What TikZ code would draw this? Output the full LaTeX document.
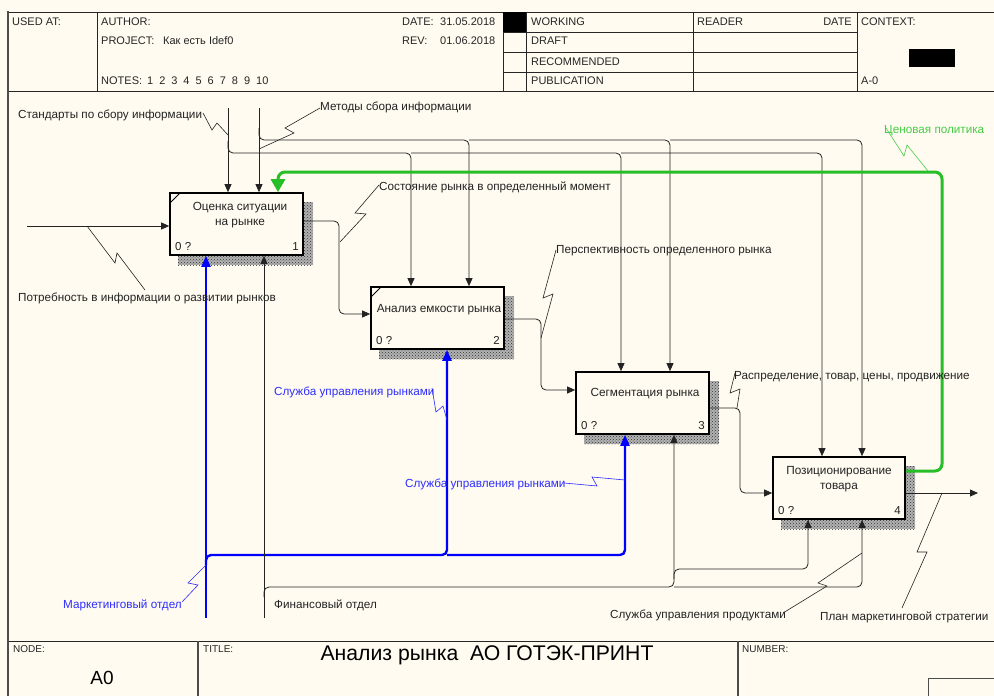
\documentclass[tikz,border=0pt]{standalone}
\usepackage{fontspec}
\setmainfont{Liberation Sans}
\usetikzlibrary{arrows.meta,patterns,calc}
\definecolor{bg}{RGB}{255,251,240}
\definecolor{ln}{RGB}{35,35,35}
\definecolor{bl}{RGB}{0,0,255}
\definecolor{bltxt}{RGB}{45,45,255}
\definecolor{gr}{RGB}{40,190,40}
\definecolor{grtxt}{RGB}{70,205,70}
\begin{document}
\begin{tikzpicture}[x=1pt,y=-1pt,
  lbl/.style={font=\fontsize{11.7}{13}\selectfont, text=ln, inner sep=0, anchor=base west},
  blbl/.style={lbl, text=bltxt},
  glbl/.style={lbl, text=grtxt},
  hdr/.style={font=\fontsize{11}{13}\selectfont, text=black!85, inner sep=0, anchor=base west},
  small/.style={font=\fontsize{10}{12}\selectfont, text=black!85, inner sep=0, anchor=base west},
  fbox/.style={draw=black, line width=1.7pt, fill=bg, minimum width=#1, minimum height=62pt, inner sep=0},
  btxt/.style={font=\fontsize{11.8}{15}\selectfont, text=ln, inner sep=0, align=center},
  bnum/.style={font=\fontsize{11.5}{13}\selectfont, text=ln, inner sep=0},
  cn/.style={draw=ln, line width=0.8pt},
  arr/.style={cn, -{Triangle[length=8pt,width=7pt]}},
  bla/.style={draw=bl, line width=2.4pt, -{Triangle[length=11pt,width=9pt]}},
  grn/.style={draw=gr, line width=3pt, -{Triangle[length=13pt,width=14pt]}},
  sq/.style={draw=ln, line width=0.6pt},
  bsq/.style={draw=bltxt, line width=0.6pt},
  gsq/.style={draw=grtxt, line width=0.6pt},
  frm/.style={draw=black!85, line width=0.9pt},
  shad/.style={fill=gray!60, postaction={pattern=crosshatch dots, pattern color=black!80}}
]
\fill[bg] (0,0) rectangle (994,696);
\useasboundingbox (0,0) rectangle (994,696);

% ---------- frame ----------
\draw[frm] (8,12) -- (994,12);
\draw[frm] (8,91) -- (994,91);
\draw[frm] (8,641) -- (994,641);
\draw[draw=gray!60!black, line width=2pt] (8,11) -- (8,696);
\draw[frm] (97,12) -- (97,91);
\draw[frm] (503,12) -- (503,91);
\draw[frm] (526,12) -- (526,91);
\draw[frm] (693,12) -- (693,91);
\draw[frm] (857,12) -- (857,91);
\draw[frm] (503,32) -- (857,32);
\draw[frm] (503,52) -- (857,52);
\draw[frm] (503,72) -- (857,72);
\fill[black] (503,12) rectangle (526,32);
\fill[black] (909,49) rectangle (955,67);
\draw[draw=gray!60!black, line width=1.2pt] (198,641) -- (198,696);
\draw[draw=gray!60!black, line width=1.2pt] (738,641) -- (738,696);
\draw[draw=gray!60!black, line width=1pt] (928,696) -- (928,678) -- (994,678);

% ---------- header texts ----------
\node[hdr] (h1) at (12,25) {USED AT:};
\node[hdr] (h2) at (101,25) {AUTHOR:};
\node[hdr] (h3) at (101,44) {PROJECT:};
\node[hdr] (h3b) at (163,44) {Как есть Idef0};
\node[hdr] (h4) at (101,84) {NOTES:\hspace{5pt}1\hspace{6pt}2\hspace{6pt}3\hspace{6pt}4\hspace{6pt}5\hspace{6pt}6\hspace{6pt}7\hspace{6pt}8\hspace{6pt}9\hspace{6pt}10};
\node[hdr] (h5) at (402,25) {DATE:};
\node[hdr] (h5b) at (440,25) {31.05.2018};
\node[hdr] (h6) at (402,44) {REV:};
\node[hdr] (h6b) at (440,44) {01.06.2018};
\node[hdr] (h7) at (531,25) {WORKING};
\node[hdr] (h8) at (531,45) {DRAFT};
\node[hdr] (h9) at (531,65) {RECOMMENDED};
\node[hdr] (h10) at (531,84) {PUBLICATION};
\node[hdr] (h11) at (697,25) {READER};
\node[hdr, anchor=base east] (h12) at (852,25) {DATE};
\node[hdr] (h13) at (861,25) {CONTEXT:};
\node[hdr] (h14) at (861,84) {A-0};
\node[small] (f1n) at (13,652) {NODE:};
\node[small] (f2n) at (203,652) {TITLE:};
\node[small] (f3n) at (742,652) {NUMBER:};
\node[font=\fontsize{19}{22}\selectfont, text=black, inner sep=0] (f4n) at (102,678) {A0};
\node[font=\fontsize{21.2}{24}\selectfont, text=black, inner sep=0] (f5n) at (487,655) {Анализ рынка\ \ АО ГОТЭК-ПРИНТ};

% ---------- shadows ----------
\path[shad] (178,202) rectangle (313,265);
\path[shad] (379,296) rectangle (514,359);
\path[shad] (584,381) rectangle (719,444);
\path[shad] (781,466) rectangle (915,529);

% ---------- boxes ----------
\node[fbox=133pt] (b1) at (236.5,224) {};
\node[fbox=133pt] (b2) at (437.5,318) {};
\node[fbox=133pt] (b3) at (642.5,403) {};
\node[fbox=132pt] (b4) at (839,488) {};
\draw[black, line width=1pt] (170,203) -- (180,193);
\draw[black, line width=1pt] (371,297) -- (381,287);
\node[btxt] (t1) at (240,215.5) {Оценка ситуации\\на рынке};
\node[btxt] (t2) at (439,310) {Анализ емкости рынка};
\node[btxt] (t3) at (645,394) {Сегментация рынка};
\node[btxt] (t4) at (839,479.5) {Позиционирование\\товара};
\node[bnum, anchor=base west] (n1a) at (175,250) {0 ?};
\node[bnum, anchor=base east] (n1b) at (299,250) {1};
\node[bnum, anchor=base west] (n2a) at (376,344) {0 ?};
\node[bnum, anchor=base east] (n2b) at (500,344) {2};
\node[bnum, anchor=base west] (n3a) at (581,429) {0 ?};
\node[bnum, anchor=base east] (n3b) at (705,429) {3};
\node[bnum, anchor=base west] (n4a) at (778,514) {0 ?};
\node[bnum, anchor=base east] (n4b) at (901,514) {4};

% ---------- coordinates ----------
\coordinate (s0) at (228,108);
\coordinate (s1) at (228,153);
\coordinate (s2) at (411,153);
\coordinate (s3) at (621,153);
\coordinate (s4) at (822,153);
\coordinate (m0) at (259,108);
\coordinate (m1) at (259,140);
\coordinate (m2) at (469,140);
\coordinate (m3) at (670,140);
\coordinate (m4) at (862,140);
\coordinate (g1) at (942,471);
\coordinate (g2) at (942,172);
\coordinate (g3) at (278,172);
\coordinate (i0) at (27,226);
\coordinate (o1a) at (339,221);
\coordinate (o1b) at (339,314);
\coordinate (o2a) at (541,319);
\coordinate (o2b) at (541,390);
\coordinate (o3a) at (740,408);
\coordinate (o3b) at (740,493);
\coordinate (o4) at (978,493);
\coordinate (k0) at (206,618);
\coordinate (k1) at (206,555);
\coordinate (k2) at (447,555);
\coordinate (k3) at (625,555);
\coordinate (p0) at (264,618);
\coordinate (p1) at (264,587);
\coordinate (p2) at (674,587);
\coordinate (p3) at (862,587);
\coordinate (p4) at (674,569);
\coordinate (p5) at (808,569);

% ---------- controls ----------
\draw[arr] (s0) -- (s0 |- b1.north);
\draw[arr, rounded corners=5pt] ($(s1)+(0,-12)$) -- (s1) -- (s2) -- (s2 |- b2.north);
\draw[arr, rounded corners=5pt] (s2) -- (s3) -- (s3 |- b3.north);
\draw[arr, rounded corners=5pt] (s3) -- (s4) -- (s4 |- b4.north);
\draw[arr] (m0) -- (m0 |- b1.north);
\draw[arr, rounded corners=5pt] ($(m1)+(0,-12)$) -- (m1) -- (m2) -- (m2 |- b2.north);
\draw[arr, rounded corners=5pt] (m2) -- (m3) -- (m3 |- b3.north);
\draw[arr, rounded corners=5pt] (m3) -- (m4) -- (m4 |- b4.north);

% ---------- inputs / outputs ----------
\draw[arr] (i0) -- (i0 -| b1.west);
\draw[arr, rounded corners=5pt] (b1.east |- o1a) -- (o1a) -- (o1b) -- (o1b -| b2.west);
\draw[arr, rounded corners=5pt] (b2.east |- o2a) -- (o2a) -- (o2b) -- (o2b -| b3.west);
\draw[arr, rounded corners=5pt] (b3.east |- o3a) -- (o3a) -- (o3b) -- (o3b -| b4.west);
\draw[arr] (b4.east |- o4) -- (o4);

% ---------- feedback ----------
\draw[grn, rounded corners=7pt] (b4.east |- g1) -- (g1) -- (g2) -- (g3) -- (g3 |- b1.north);

% ---------- mechanisms ----------
\draw[bla] (k0) -- (k0 |- b1.south);
\draw[bla, rounded corners=5pt] ($(k1)+(0,10)$) -- (k1) -- (k2) -- (k2 |- b2.south);
\draw[bla, rounded corners=5pt] (k2) -- (k3) -- (k3 |- b3.south);
\draw[arr] (p0) -- (p0 |- b1.south);
\draw[arr, rounded corners=5pt] ($(p1)+(0,10)$) -- (p1) -- (p2) -- (p2 |- b3.south);
\draw[arr, rounded corners=5pt] (p2) -- (p3) -- (p3 |- b4.south);
\draw[arr, rounded corners=5pt] ($(p4)+(0,10)$) -- (p4) -- (p5) -- (p5 |- b4.south);

% ---------- labels ----------
\node[lbl] (l1) at (18,118) {Стандарты по сбору информации};
\node[lbl] (l2) at (320,110) {Методы сбора информации};
\node[lbl] (l3) at (379,190) {Состояние рынка в определенный момент};
\node[glbl] (l4) at (884,133) {Ценовая политика};
\node[lbl] (l5) at (18,301) {Потребность в информации о развитии рынков};
\node[lbl] (l6) at (556,253) {Перспективность определенного рынка};
\node[lbl] (l7) at (734,379) {Распределение, товар, цены, продвижение};
\node[blbl] (l8) at (274,395) {Служба управления рынками};
\node[blbl] (l9) at (405,487) {Служба управления рынками};
\node[blbl] (l10) at (63,608) {Маркетинговый отдел};
\node[lbl] (l11) at (274,608) {Финансовый отдел};
\node[lbl] (l12) at (610,618) {Служба управления продуктами};
\node[lbl] (l13) at (820,620) {План маркетинговой стратегии};

% ---------- squiggles ----------
\draw[sq] (203,113) -- (212,130) -- (217,123) -- (228,135);
\draw[sq] (320,108) -- (285,128) -- (294,133) -- (259,149);
\draw[sq] (145,290) -- (117,253) -- (115,263) -- (87,226);
\draw[sq] (379,185) -- (355,213) -- (366,214) -- (340,242);
\draw[sq] (556,250) -- (543,298) -- (553,294) -- (541,338);
\draw[sq] (735,373) -- (730,393) -- (740,389) -- (737,408);
\draw[gsq] (886,128) -- (904,156) -- (907,145) -- (928,171);
\draw[bsq] (432,388) -- (436,412) -- (443,406) -- (447,420);
\draw[bsq] (564,483) -- (597,486) -- (592,477) -- (625,480);
\draw[bsq] (182,602) -- (198,585) -- (188,583) -- (206,565);
\draw[sq] (783,613) -- (827,586) -- (818,583) -- (862,553);
\draw[sq] (902,608) -- (927,552) -- (917,552) -- (942,493);
\end{tikzpicture}
\end{document}
